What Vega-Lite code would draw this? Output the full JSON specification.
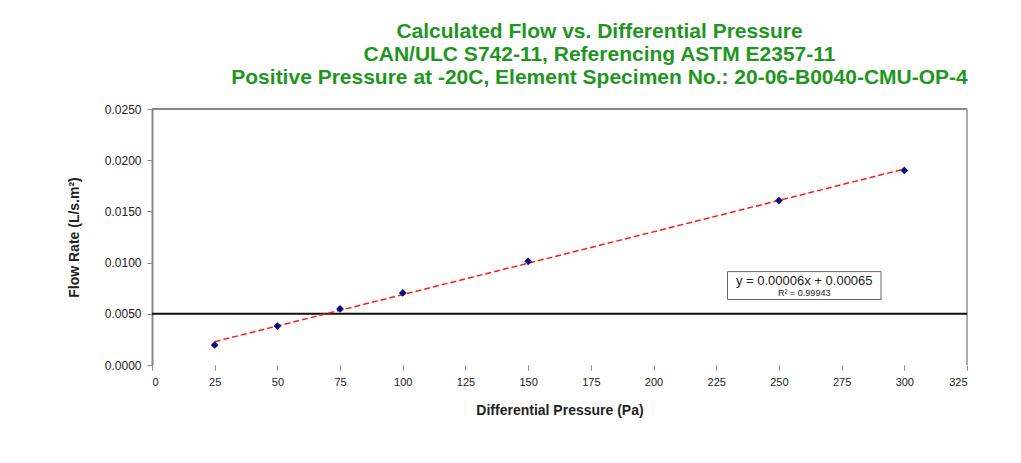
{
  "$schema": "https://vega.github.io/schema/vega-lite/v6.json",
  "width": 815,
  "height": 256,
  "autosize": "none",
  "padding": {"left": 152, "top": 109, "right": 54, "bottom": 98},
  "background": "white",
  "config": {"view": {"stroke": null}, "font": "Liberation Sans"},
  "title": {
    "text": ["Calculated Flow vs. Differential Pressure", "CAN/ULC S742-11, Referencing ASTM E2357-11", "Positive Pressure at -20C, Element Specimen No.: 20-06-B0040-CMU-OP-4"],
    "color": "#1f961f",
    "fontSize": 21,
    "fontWeight": "bold",
    "font": "Liberation Sans",
    "anchor": "middle",
    "frame": "group",
    "dx": 40,
    "offset": 15,
    "lineHeight": 23
  },
  "datasets": {
    "points": [
      {"pressure": 25, "flow": 0.00196},
      {"pressure": 50, "flow": 0.00380},
      {"pressure": 75, "flow": 0.00548},
      {"pressure": 100, "flow": 0.00704},
      {"pressure": 150, "flow": 0.01012},
      {"pressure": 250, "flow": 0.01606},
      {"pressure": 300, "flow": 0.01900}
    ]
  },
  "encoding": {
    "x": {
      "field": "pressure", "type": "quantitative",
      "scale": {"domain": [0, 325], "nice": false, "zero": false},
      "axis": {
        "title": "Differential Pressure (Pa)",
        "values": [0, 25, 50, 75, 100, 125, 150, 175, 200, 225, 250, 275, 300, 325],
        "grid": false, "domain": false,
        "tickColor": "#888", "tickSize": 5,
        "labelFontSize": 11, "labelColor": "#222", "labelPadding": 6,
        "titleFontSize": 14, "titleFontWeight": "bold", "titleColor": "#222", "titlePadding": 16
      }
    },
    "y": {
      "field": "flow", "type": "quantitative",
      "scale": {"domain": [0, 0.025], "nice": false, "zero": false},
      "axis": {
        "title": "Flow Rate (L/s.m²)",
        "values": [0, 0.005, 0.01, 0.015, 0.02, 0.025],
        "format": ".4f",
        "grid": false, "domainColor": "#888", "domainWidth": 2,
        "tickColor": "#888", "tickSize": 5,
        "labelFontSize": 12, "labelColor": "#222", "labelPadding": 6,
        "titleFontSize": 14, "titleFontWeight": "bold", "titleColor": "#222", "titlePadding": 23
      }
    }
  },
  "layer": [
    {
      "data": {"values": [{"flow": 0.025}]},
      "mark": {"type": "rule", "color": "#888", "strokeWidth": 2},
      "encoding": {"x": {"value": 0}, "x2": {"value": 815}, "y": {"field": "flow", "type": "quantitative"}}
    },
    {
      "data": {"values": [{"pressure": 325}]},
      "mark": {"type": "rule", "color": "#aaa", "strokeWidth": 2},
      "encoding": {"y": {"value": 0}, "y2": {"value": 256}, "x": {"field": "pressure", "type": "quantitative"}}
    },
    {
      "data": {"values": [{"flow": 0.005}]},
      "mark": {"type": "rule", "color": "#111", "strokeWidth": 2},
      "encoding": {"x": {"value": 0}, "x2": {"value": 815}, "y": {"field": "flow", "type": "quantitative"}}
    },
    {
      "data": {"name": "points"},
      "transform": [{"regression": "flow", "on": "pressure", "method": "linear", "extent": [25, 300]}],
      "mark": {"type": "line", "color": "#ff1a1a", "strokeWidth": 1.5, "strokeDash": [6, 3]}
    },
    {
      "data": {"name": "points"},
      "mark": {"type": "point", "shape": "diamond", "filled": true, "color": "#0a0a80", "size": 60, "opacity": 1}
    },
    {
      "data": {"values": [{"x1": 229.5, "x2": 290.7, "y1": 0.0064, "y2": 0.00912}]},
      "mark": {"type": "rect", "fill": "white", "stroke": "#666", "strokeWidth": 1},
      "encoding": {
        "x": {"field": "x1", "type": "quantitative"}, "x2": {"field": "x2"},
        "y": {"field": "y1", "type": "quantitative"}, "y2": {"field": "y2"}
      }
    },
    {
      "data": {"values": [
        {"x": 260.1, "y": 0.00824, "label": "y = 0.00006x + 0.00065", "size": 13},
        {"x": 260.1, "y": 0.00706, "label": "R² = 0.99943", "size": 9}
      ]},
      "mark": {"type": "text", "color": "#222", "align": "center", "baseline": "middle"},
      "encoding": {
        "x": {"field": "x", "type": "quantitative"},
        "y": {"field": "y", "type": "quantitative"},
        "text": {"field": "label"},
        "size": {"field": "size", "type": "quantitative", "scale": null, "legend": null}
      }
    }
  ]
}
